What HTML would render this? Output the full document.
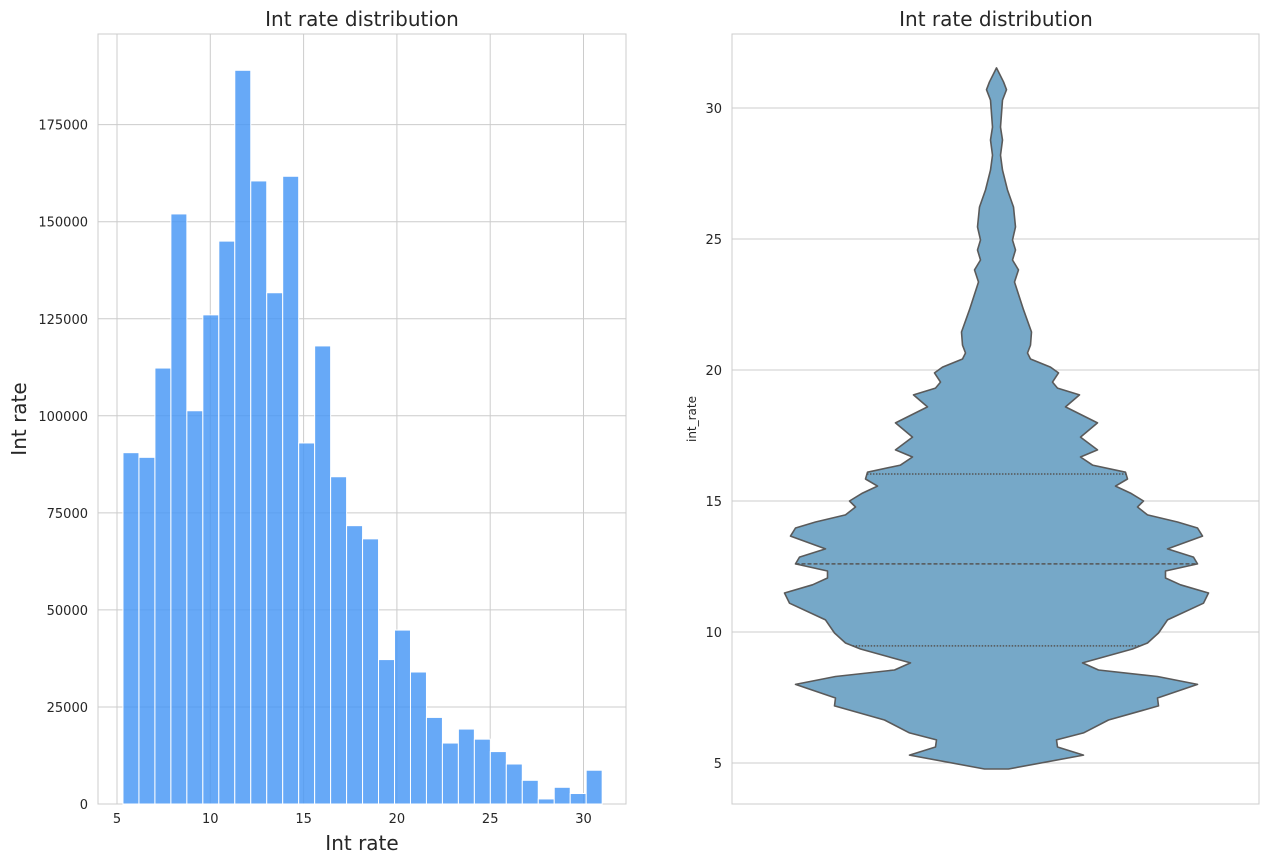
<!DOCTYPE html>
<html><head><meta charset="utf-8"><style>
body{margin:0;background:#fff;}
svg{display:block;font-family:"DejaVu Sans","Liberation Sans",sans-serif;}
</style></head><body>
<svg id="c" width="1270" height="863"></svg>
<script>
const binStart=5.32, binEnd=31.0;
const counts=[90500,89300,112300,152000,101300,126000,145000,189000,160500,131700,161700,93000,118000,84300,71700,68300,37200,44800,34000,22300,15700,19300,16700,13500,10300,6100,1300,4300,2700,8700];
const histXTicks=[5,10,15,20,25,30];
const histYTicks=[0,25000,50000,75000,100000,125000,150000,175000];
const violinVals=[4.77,5.3,5.61,5.88,6.15,6.64,7.18,7.48,8.0,8.3,8.55,8.82,9.35,9.58,9.96,10.46,11.1,11.49,11.8,12.06,12.33,12.6,12.86,13.17,13.66,13.97,14.2,14.47,14.77,15.0,15.3,15.57,15.84,16.1,16.37,16.68,16.95,17.44,17.98,18.59,19.05,19.31,19.54,19.89,20.11,20.42,20.65,20.95,21.45,22.3,23.36,23.82,24.2,24.58,24.96,25.46,26.22,26.87,27.63,28.2,28.78,29.27,30.3,30.7,31.0,31.53];
const violinDensity=[12,87,61,60,87,112,162,161,201,161,102,86,136,151,162,171,207,212,184,169,169,201,197,171,206,201,181,151,141,147,134,119,131,129,96,84,101,84,101,69,83,61,56,62,54,34,31,34,35,27,18,22,16,19,16,19,17,11,6,4,6,4,6,10,7,0];
const quartiles=[9.47,12.6,16.03];
const violinYTicks=[5,10,15,20,25,30];

const NS="http://www.w3.org/2000/svg", svg=document.getElementById('c');
function mk(t,a,p){const e=document.createElementNS(NS,t);for(const k in a)e.setAttribute(k,a[k]);(p||svg).appendChild(e);return e;}
function tx(s,a){const e=mk('text',a);e.textContent=s;return e;}

const L={x0:98,x1:626,y0:34,y1:804};
const hx=v=>117+(v-5)*93.3/5, hy=v=>804-v*97.05/25000;
mk('rect',{x:L.x0,y:L.y0,width:L.x1-L.x0,height:L.y1-L.y0,fill:'#fff',stroke:'#ccc',});
histXTicks.forEach(t=>{const g=mk('line',{x1:hx(t),x2:hx(t),y1:L.y0,y2:L.y1,stroke:'#ccc'});
 const e=tx(t,{x:hx(t),y:L.y1+19,'text-anchor':'middle','font-size':13,fill:'#262626'});});
histYTicks.forEach(t=>{const g=mk('line',{x1:L.x0,x2:L.x1,y1:hy(t),y2:hy(t),stroke:'#ccc'});
 const e=tx(t,{x:L.x0-10,y:hy(t)+5,'text-anchor':'end','font-size':13,fill:'#262626'});});
const bw=(binEnd-binStart)/counts.length;
counts.forEach((c,i)=>{const xa=hx(binStart+i*bw),xb=hx(binStart+(i+1)*bw);
 const r=mk('rect',{x:xa,y:hy(c),width:xb-xa,height:hy(0)-hy(c),fill:'rgba(70,150,245,0.82)',stroke:'#fff','stroke-width':1});
 });
let e=tx('Int rate distribution',{x:362,y:26,'text-anchor':'middle','font-size':20,fill:'#262626'});
e=tx('Int rate',{x:362,y:850,'text-anchor':'middle','font-size':20,fill:'#262626'});
e=tx('Int rate',{x:0,y:0,'text-anchor':'middle','font-size':20,fill:'#262626',transform:'translate(26,419) rotate(-90)'});

const R={x0:732,x1:1259,y0:34,y1:804,cx:996.5};
const vy=v=>763-(v-5)*131/5;
mk('rect',{x:R.x0,y:R.y0,width:R.x1-R.x0,height:R.y1-R.y0,fill:'#fff',stroke:'#ccc',});
violinYTicks.forEach(t=>{const g=mk('line',{x1:R.x0,x2:R.x1,y1:vy(t),y2:vy(t),stroke:'#ccc'});
 const e=tx(t,{x:R.x0-10,y:vy(t)+5,'text-anchor':'end','font-size':13,fill:'#262626'});});
let pts=[];
violinVals.forEach((v,i)=>pts.push((R.cx+violinDensity[i]).toFixed(1)+','+vy(v).toFixed(1)));
for(let i=violinVals.length-1;i>=0;i--)pts.push((R.cx-violinDensity[i]).toFixed(1)+','+vy(violinVals[i]).toFixed(1));
const poly=mk('polygon',{points:pts.join(' '),fill:'#76a8c8',stroke:'#5a5a5a','stroke-width':1.6,'stroke-linejoin':'round'});

function hwAt(v){for(let i=1;i<violinVals.length;i++){if(v<=violinVals[i]){const a=violinVals[i-1],b=violinVals[i],f=(v-a)/(b-a);return violinDensity[i-1]+f*(violinDensity[i]-violinDensity[i-1]);}}return 0;}
quartiles.forEach((q,i)=>{const w=hwAt(q);const l=mk('line',{x1:R.cx-w,x2:R.cx+w,y1:vy(q),y2:vy(q),stroke:'#555','stroke-width':1.5,'stroke-dasharray':i==1?'4,2':'1.5,1.5'});
 });
e=tx('Int rate distribution',{x:996,y:26,'text-anchor':'middle','font-size':20,fill:'#262626'});
e=tx('int_rate',{x:0,y:0,'text-anchor':'middle','font-size':12,fill:'#262626',transform:'translate(696,419) rotate(-90)'});
</script>
</body></html>
